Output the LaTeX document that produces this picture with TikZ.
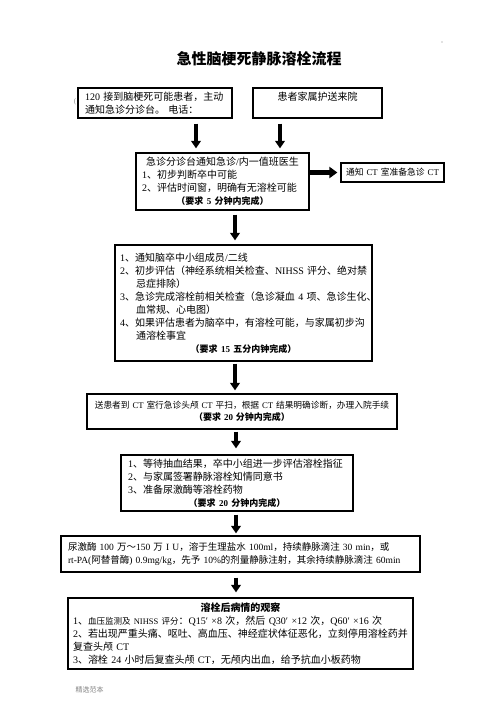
\documentclass[tikz,border=0pt]{standalone}
\usepackage{fontspec}
\setmainfont{Liberation Serif}
\newfontfamily\cjkfont{Noto Sans CJK SC}
\usetikzlibrary{arrows.meta}
\XeTeXinterchartokenstate=1
\newXeTeXintercharclass\CJKcls
\newcount\mycnt
\mycnt="3000 \loop\ifnum\mycnt<"3040 \XeTeXcharclass\mycnt=\CJKcls \advance\mycnt by 1 \repeat
\mycnt="4E00 \loop\ifnum\mycnt<"A000 \XeTeXcharclass\mycnt=\CJKcls \advance\mycnt by 1 \repeat
\mycnt="FF00 \loop\ifnum\mycnt<"FFF0 \XeTeXcharclass\mycnt=\CJKcls \advance\mycnt by 1 \repeat
\XeTeXinterchartoks 0 \CJKcls = {\cjkfont}
\XeTeXinterchartoks 4095 \CJKcls = {\cjkfont}
\XeTeXinterchartoks \CJKcls 0 = {\rmfamily}
\XeTeXinterchartoks \CJKcls 4095 = {\rmfamily}
\tikzset{
  box/.style={draw, line width=1.2pt, inner ysep=0pt, align=left},
  ften/.style={font=\fontsize{10}{13}\selectfont},
  fnine/.style={font=\fontsize{8.7}{12}\selectfont},
  varr/.style={line width=4pt, -{Triangle[width=9.5pt,length=7.5pt]}},
  harr/.style={line width=5pt, -{Triangle[width=11pt,length=8pt]}},
}
\newcommand{\req}[1]{\makebox[\linewidth]{\fontsize{9}{12}\selectfont\bfseries #1}}
\begin{document}
\begin{tikzpicture}[x=1pt,y=-1pt]
\useasboundingbox (0,0) rectangle (496,702);
\node[font=\fontsize{15}{18}\selectfont\bfseries] (title) at (259,59) {急性脑梗死静脉溶栓流程};
\node[text=gray, font=\fontsize{7}{8}\selectfont] (paren) at (75,102) {(};
\fill[gray] (442,42) circle (0.6);
% box 1
\node[box, ften, minimum width=154, minimum height=30, inner xsep=7, text width=140] (b1) at (155,103)
 {120~接到脑梗死可能患者，主动\\通知急诊分诊台。 电话：};
% box 2
\node[box, ften, align=center, minimum width=129, minimum height=30, inner xsep=5, text width=119] (b2) at (317.5,103)
 {患者家属护送来院\\\mbox{}};
% box 3
\node[box, ften, minimum width=173, minimum height=57, inner xsep=6, text width=161] (b3) at (222.5,181.5)
 {\makebox[\linewidth]{急诊分诊台通知急诊/内一值班医生}\\
  1、初步判断卒中可能\\
  2、评估时间窗，明确有无溶栓可能\\
  \req{（要求 5 分钟内完成）}};
% box 4
\node[box, align=center, font=\fontsize{8.8}{12}\selectfont, minimum width=103, minimum height=19, inner xsep=3, text width=97] (b4) at (392.5,172.5)
 {通知~CT~室准备急诊~CT};
% box 5
\node[box, ften, minimum width=257, minimum height=116, inner xsep=5, text width=247] (b5) at (243.5,303)
 {1、通知脑卒中小组成员/二线\\
  2、初步评估（神经系统相关检查、NIHSS~评分、绝对禁\\
  \hspace*{16pt}忌症排除）\\
  3、急诊完成溶栓前相关检查（急诊凝血~4~项、急诊生化、\\
  \hspace*{16pt}血常规、心电图）\\
  4、如果评估患者为脑卒中，有溶栓可能，与家属初步沟\\
  \hspace*{16pt}通溶栓事宜\\
  \req{（要求 15 五分内钟完成）}};
% box 6
\node[box, fnine, align=center, minimum width=310, minimum height=35, inner xsep=3, text width=304] (b6) at (242,411.5)
 {送患者到~CT~室行急诊头颅~CT~平扫，根据~CT~结果明确诊断，办理入院手续\\
  {\fontsize{9}{12}\selectfont\bfseries（要求 20 分钟内完成）}};
% box 7
\node[box, ften, minimum width=232, minimum height=56, inner xsep=7, text width=218] (b7) at (237,483)
 {1、等待抽血结果，卒中小组进一步评估溶栓指征\\
  2、与家属签署静脉溶栓知情同意书\\
  3、准备尿激酶等溶栓药物\\
  \req{（要求 20 分钟内完成）}};
% box 8
\node[box, font=\fontsize{9.5}{13}\selectfont, minimum width=359, minimum height=36, inner xsep=7, text width=345] (b8) at (240.5,554)
 {\makebox[\linewidth][s]{尿激酶 100 万～150 万 I U，溶于生理盐水 100ml，持续静脉滴注 30 min，或}\\
  \makebox[\linewidth][s]{rt-PA(阿替普酶) 0.9mg/kg，先予 10\%的剂量静脉注射，其余持续静脉滴注 60min}};
% box 9
\node[box, ften, minimum width=345, minimum height=71, inner xsep=5, text width=335] (b9) at (240.5,633.5)
 {\makebox[\linewidth]{\bfseries 溶栓后病情的观察}\\
  1、{\fontsize{8.5}{13}\selectfont 血压监测及~NIHSS~评分}：Q15′~×8~次，然后~Q30′~×12~次，Q60′~×16~次\\
  2、若出现严重头痛、呕吐、高血压、神经症状体征恶化，立刻停用溶栓药并\\
  复查头颅~CT\\
  3、溶栓~24~小时后复查头颅~CT，无颅内出血，给予抗血小板药物};
\node[text=gray, font=\fontsize{7}{8}\selectfont] (foot) at (89.5,690) {精选范本};
% arrow columns
\coordinate (xa) at (196,0);
\coordinate (xb) at (280,0);
\coordinate (xc) at (235,0);
\coordinate (xd) at (236,0);
\draw[varr, shorten <=5pt, shorten >=4pt] (b1.south -| xa) -- (b3.north -| xa);
\draw[varr, shorten <=5pt, shorten >=4pt] (b2.south -| xb) -- (b3.north -| xb);
\draw[harr, shorten >=3pt] (b3.east |- b4.west) -- (b4.west);
\draw[varr, shorten <=4pt, shorten >=4pt] (b3.south -| xc) -- (b5.north -| xc);
\draw[varr, shorten <=2pt, shorten >=3pt] (b5.south -| xc) -- (b6.north -| xc);
\draw[varr, shorten <=2pt, shorten >=6pt] (b6.south -| xd) -- (b7.north -| xd);
\draw[varr, shorten <=3pt, shorten >=2pt] (b7.south -| xd) -- (b8.north -| xd);
\draw[varr, shorten <=5pt, shorten >=5pt] (b8.south -| xd) -- (b9.north -| xd);
\end{tikzpicture}
\end{document}
